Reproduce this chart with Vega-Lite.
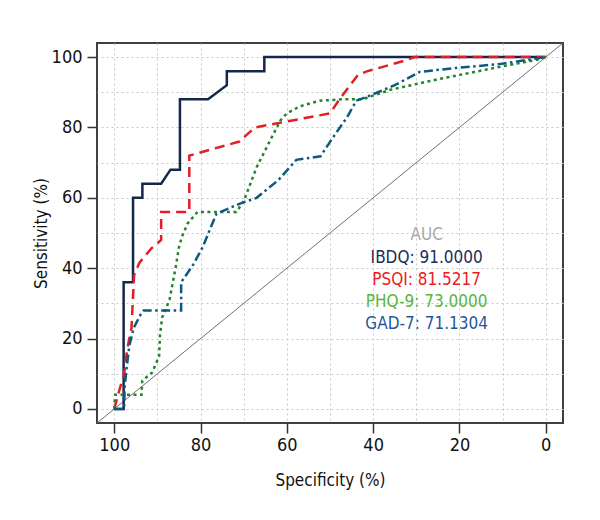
{
  "$schema": "https://vega.github.io/schema/vega-lite/v6.json",
  "width": 466,
  "height": 380,
  "autosize": "none",
  "padding": {"left": 97, "top": 43, "right": 37, "bottom": 97},
  "background": "white",
  "config": {
    "view": {"stroke": "#404040", "strokeWidth": 2},
    "font": "DejaVu Sans Condensed, Liberation Sans Narrow, Open Sans, sans-serif"
  },
  "datasets": {
    "roc": [
      {"test": "IBDQ", "i": 0, "spec": 100, "sens": 0},
      {"test": "IBDQ", "i": 1, "spec": 97.83, "sens": 0},
      {"test": "IBDQ", "i": 2, "spec": 97.83, "sens": 36},
      {"test": "IBDQ", "i": 3, "spec": 95.65, "sens": 36},
      {"test": "IBDQ", "i": 4, "spec": 95.65, "sens": 60},
      {"test": "IBDQ", "i": 5, "spec": 93.48, "sens": 60},
      {"test": "IBDQ", "i": 6, "spec": 93.48, "sens": 64},
      {"test": "IBDQ", "i": 7, "spec": 89.13, "sens": 64},
      {"test": "IBDQ", "i": 8, "spec": 86.96, "sens": 68},
      {"test": "IBDQ", "i": 9, "spec": 84.78, "sens": 68},
      {"test": "IBDQ", "i": 10, "spec": 84.78, "sens": 88},
      {"test": "IBDQ", "i": 11, "spec": 78.26, "sens": 88},
      {"test": "IBDQ", "i": 12, "spec": 73.91, "sens": 92},
      {"test": "IBDQ", "i": 13, "spec": 73.91, "sens": 96},
      {"test": "IBDQ", "i": 14, "spec": 65.22, "sens": 96},
      {"test": "IBDQ", "i": 15, "spec": 65.22, "sens": 100},
      {"test": "IBDQ", "i": 16, "spec": 0, "sens": 100},

      {"test": "PSQI", "i": 0, "spec": 100, "sens": 0},
      {"test": "PSQI", "i": 1, "spec": 98.9, "sens": 5},
      {"test": "PSQI", "i": 2, "spec": 97.7, "sens": 10},
      {"test": "PSQI", "i": 3, "spec": 97.0, "sens": 17},
      {"test": "PSQI", "i": 4, "spec": 96.0, "sens": 23},
      {"test": "PSQI", "i": 5, "spec": 95.65, "sens": 32},
      {"test": "PSQI", "i": 6, "spec": 95.4, "sens": 38},
      {"test": "PSQI", "i": 7, "spec": 94.2, "sens": 41.5},
      {"test": "PSQI", "i": 8, "spec": 91.4, "sens": 45.6},
      {"test": "PSQI", "i": 9, "spec": 89.13, "sens": 48},
      {"test": "PSQI", "i": 10, "spec": 89.13, "sens": 56},
      {"test": "PSQI", "i": 11, "spec": 82.61, "sens": 56},
      {"test": "PSQI", "i": 12, "spec": 82.61, "sens": 72},
      {"test": "PSQI", "i": 13, "spec": 71.0, "sens": 76},
      {"test": "PSQI", "i": 14, "spec": 67.4, "sens": 80},
      {"test": "PSQI", "i": 15, "spec": 50.0, "sens": 84},
      {"test": "PSQI", "i": 16, "spec": 47.8, "sens": 88},
      {"test": "PSQI", "i": 17, "spec": 43.5, "sens": 95},
      {"test": "PSQI", "i": 18, "spec": 41.3, "sens": 96},
      {"test": "PSQI", "i": 19, "spec": 32.6, "sens": 99},
      {"test": "PSQI", "i": 20, "spec": 30.4, "sens": 100},
      {"test": "PSQI", "i": 21, "spec": 0, "sens": 100},

      {"test": "PHQ-9", "i": 0, "spec": 100, "sens": 0},
      {"test": "PHQ-9", "i": 1, "spec": 99.8, "sens": 4},
      {"test": "PHQ-9", "i": 2, "spec": 93.7, "sens": 4},
      {"test": "PHQ-9", "i": 3, "spec": 93.5, "sens": 8},
      {"test": "PHQ-9", "i": 4, "spec": 91.2, "sens": 10.4},
      {"test": "PHQ-9", "i": 5, "spec": 89.6, "sens": 15},
      {"test": "PHQ-9", "i": 6, "spec": 89.4, "sens": 21},
      {"test": "PHQ-9", "i": 7, "spec": 88.9, "sens": 26},
      {"test": "PHQ-9", "i": 8, "spec": 87.2, "sens": 31},
      {"test": "PHQ-9", "i": 9, "spec": 85.8, "sens": 40},
      {"test": "PHQ-9", "i": 10, "spec": 85.0, "sens": 46},
      {"test": "PHQ-9", "i": 11, "spec": 84.3, "sens": 49},
      {"test": "PHQ-9", "i": 12, "spec": 83.0, "sens": 52.7},
      {"test": "PHQ-9", "i": 13, "spec": 80.7, "sens": 56},
      {"test": "PHQ-9", "i": 14, "spec": 71.7, "sens": 56},
      {"test": "PHQ-9", "i": 15, "spec": 70.0, "sens": 59},
      {"test": "PHQ-9", "i": 16, "spec": 67.0, "sens": 68.7},
      {"test": "PHQ-9", "i": 17, "spec": 64.0, "sens": 76},
      {"test": "PHQ-9", "i": 18, "spec": 61.5, "sens": 82},
      {"test": "PHQ-9", "i": 19, "spec": 60.0, "sens": 84},
      {"test": "PHQ-9", "i": 20, "spec": 57.0, "sens": 86},
      {"test": "PHQ-9", "i": 21, "spec": 52.4, "sens": 87.6},
      {"test": "PHQ-9", "i": 22, "spec": 47.0, "sens": 88},
      {"test": "PHQ-9", "i": 23, "spec": 42.5, "sens": 88},
      {"test": "PHQ-9", "i": 24, "spec": 36.0, "sens": 90.7},
      {"test": "PHQ-9", "i": 25, "spec": 24.6, "sens": 93.8},
      {"test": "PHQ-9", "i": 26, "spec": 10.7, "sens": 97.2},
      {"test": "PHQ-9", "i": 27, "spec": 1.4, "sens": 99.4},
      {"test": "PHQ-9", "i": 28, "spec": 0, "sens": 100},

      {"test": "GAD-7", "i": 0, "spec": 100, "sens": 0},
      {"test": "GAD-7", "i": 1, "spec": 97.7, "sens": 0},
      {"test": "GAD-7", "i": 2, "spec": 97.6, "sens": 6},
      {"test": "GAD-7", "i": 3, "spec": 97.1, "sens": 12},
      {"test": "GAD-7", "i": 4, "spec": 96.5, "sens": 18},
      {"test": "GAD-7", "i": 5, "spec": 95.5, "sens": 23},
      {"test": "GAD-7", "i": 6, "spec": 93.7, "sens": 27.3},
      {"test": "GAD-7", "i": 7, "spec": 93.2, "sens": 28},
      {"test": "GAD-7", "i": 8, "spec": 84.5, "sens": 28},
      {"test": "GAD-7", "i": 9, "spec": 84.5, "sens": 36},
      {"test": "GAD-7", "i": 10, "spec": 81.7, "sens": 41},
      {"test": "GAD-7", "i": 11, "spec": 79.5, "sens": 46},
      {"test": "GAD-7", "i": 12, "spec": 77.5, "sens": 52},
      {"test": "GAD-7", "i": 13, "spec": 76.3, "sens": 55.5},
      {"test": "GAD-7", "i": 14, "spec": 71.0, "sens": 58.3},
      {"test": "GAD-7", "i": 15, "spec": 67.0, "sens": 60},
      {"test": "GAD-7", "i": 16, "spec": 62.0, "sens": 65},
      {"test": "GAD-7", "i": 17, "spec": 57.8, "sens": 70.8},
      {"test": "GAD-7", "i": 18, "spec": 52.2, "sens": 71.8},
      {"test": "GAD-7", "i": 19, "spec": 49.4, "sens": 77},
      {"test": "GAD-7", "i": 20, "spec": 46.0, "sens": 83},
      {"test": "GAD-7", "i": 21, "spec": 43.9, "sens": 87.6},
      {"test": "GAD-7", "i": 22, "spec": 41.5, "sens": 88.7},
      {"test": "GAD-7", "i": 23, "spec": 35.0, "sens": 92},
      {"test": "GAD-7", "i": 24, "spec": 29.2, "sens": 95.8},
      {"test": "GAD-7", "i": 25, "spec": 20.0, "sens": 97},
      {"test": "GAD-7", "i": 26, "spec": 10.7, "sens": 98},
      {"test": "GAD-7", "i": 27, "spec": 0, "sens": 100}
    ],
    "diag": [
      {"spec": 104, "sens": -4},
      {"spec": -4, "sens": 104}
    ],
    "auc": [
      {"grp": "AUC", "label": "AUC", "spec": 27.6, "sens": 49.3},
      {"grp": "IBDQ", "label": "IBDQ: 91.0000", "spec": 27.6, "sens": 42.9},
      {"grp": "PSQI", "label": "PSQI: 81.5217", "spec": 27.6, "sens": 36.6},
      {"grp": "PHQ-9", "label": "PHQ-9: 73.0000", "spec": 27.6, "sens": 30.4},
      {"grp": "GAD-7", "label": "GAD-7: 71.1304", "spec": 27.6, "sens": 24.0}
    ]
  },
  "encoding": {
    "x": {
      "field": "spec",
      "type": "quantitative",
      "scale": {"domain": [-4, 104], "reverse": true, "nice": false, "zero": false},
      "axis": {
        "title": "Specificity (%)",
        "values": [0, 10, 20, 30, 40, 50, 60, 70, 80, 90, 100],
        "labelExpr": "datum.value % 20 == 0 ? datum.label : ''",
        "tickOpacity": {"condition": {"test": "datum.value % 20 == 0", "value": 1}, "value": 0},
        "grid": true,
        "gridColor": "#c8c8c8",
        "gridDash": [2, 3],
        "gridWidth": 1,
        "domain": false,
        "tickSize": 10,
        "tickColor": "#333333",
        "tickWidth": 1.5,
        "labelFont": "DejaVu Sans Condensed, Liberation Sans Narrow, Open Sans, sans-serif",
        "labelFontSize": 18,
        "labelColor": "#111111",
        "labelPadding": 3,
        "labelFlush": false,
        "labelOverlap": false,
        "titleFont": "DejaVu Sans Condensed, Liberation Sans Narrow, Open Sans, sans-serif",
        "titleFontSize": 17,
        "titleFontWeight": "normal",
        "titleColor": "#111111",
        "titlePadding": 18
      }
    },
    "y": {
      "field": "sens",
      "type": "quantitative",
      "scale": {"domain": [-4, 104], "nice": false, "zero": false},
      "axis": {
        "title": "Sensitivity (%)",
        "values": [0, 10, 20, 30, 40, 50, 60, 70, 80, 90, 100],
        "labelExpr": "datum.value % 20 == 0 ? datum.label : ''",
        "tickOpacity": {"condition": {"test": "datum.value % 20 == 0", "value": 1}, "value": 0},
        "grid": true,
        "gridColor": "#c8c8c8",
        "gridDash": [2, 3],
        "gridWidth": 1,
        "domain": false,
        "tickSize": 10,
        "tickColor": "#333333",
        "tickWidth": 1.5,
        "labelFont": "DejaVu Sans Condensed, Liberation Sans Narrow, Open Sans, sans-serif",
        "labelFontSize": 18,
        "labelColor": "#111111",
        "labelPadding": 5,
        "labelAngle": 0,
        "labelFlush": false,
        "labelOverlap": false,
        "titleFont": "DejaVu Sans Condensed, Liberation Sans Narrow, Open Sans, sans-serif",
        "titleFontSize": 17,
        "titleFontWeight": "normal",
        "titleColor": "#111111",
        "titlePadding": 1
      }
    }
  },
  "layer": [
    {
      "data": {"name": "diag"},
      "mark": {"type": "line", "color": "#707070", "strokeWidth": 1, "clip": true},
      "encoding": {}
    },
    {
      "data": {"name": "roc"},
      "transform": [{"filter": "datum.test == 'IBDQ'"}],
      "mark": {"type": "line", "color": "#14284b", "strokeWidth": 2.5, "clip": true},
      "encoding": {"order": {"field": "i", "type": "quantitative"}}
    },
    {
      "data": {"name": "roc"},
      "transform": [{"filter": "datum.test == 'PSQI'"}],
      "mark": {"type": "line", "color": "#e11f26", "strokeWidth": 2.5, "strokeDash": [10, 6], "clip": true},
      "encoding": {"order": {"field": "i", "type": "quantitative"}}
    },
    {
      "data": {"name": "roc"},
      "transform": [{"filter": "datum.test == 'PHQ-9'"}],
      "mark": {"type": "line", "color": "#23842c", "strokeWidth": 2.5, "strokeDash": [3, 3.5], "clip": true},
      "encoding": {"order": {"field": "i", "type": "quantitative"}}
    },
    {
      "data": {"name": "roc"},
      "transform": [{"filter": "datum.test == 'GAD-7'"}],
      "mark": {"type": "line", "color": "#0e5a7e", "strokeWidth": 2.5, "strokeDash": [9, 3.5, 2.5, 3.5], "clip": true},
      "encoding": {"order": {"field": "i", "type": "quantitative"}}
    },
    {
      "data": {"name": "auc"},
      "mark": {"type": "text", "font": "DejaVu Sans Condensed, Liberation Sans Narrow, Open Sans, sans-serif", "fontSize": 17, "align": "center", "baseline": "middle"},
      "encoding": {
        "text": {"field": "label", "type": "nominal"},
        "color": {
          "field": "grp",
          "type": "nominal",
          "scale": {
            "domain": ["AUC", "IBDQ", "PSQI", "PHQ-9", "GAD-7"],
            "range": ["#a8a8a8", "#1c2d5a", "#ec1c24", "#5ab43a", "#1f5799"]
          },
          "legend": null
        }
      }
    }
  ]
}
